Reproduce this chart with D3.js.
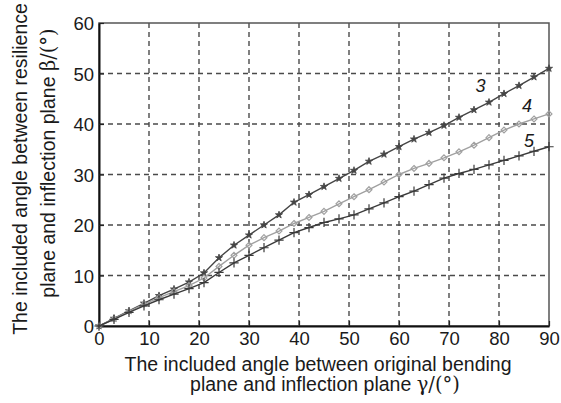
<!DOCTYPE html>
<html>
<head>
<meta charset="utf-8">
<script src="https://cdn.jsdelivr.net/npm/d3@7"></script>
<style>
  body { margin: 0; background: #fff; }
  text { font-family: "Liberation Sans", Arial, sans-serif; fill: #1a1a1a; }
</style>
</head>
<body>
<div id="chart"></div>
<script>
// gamma values (x) shared by all curves
const gamma = [0, 3, 6, 9, 12, 15, 18, 21, 24, 27, 30, 33, 36, 39, 42, 45, 48, 51, 54, 57, 60, 63, 66, 69, 72, 75, 78, 81, 84, 87, 90];

// beta values
const beta3 = [0, 1.5, 3, 4.5, 6, 7.3, 8.7, 10.5, 13.5, 16, 18, 20, 22, 24.5, 26, 27.6, 29.2, 30.8, 32.6, 34, 35.5, 37, 38.3, 39.7, 41.3, 42.8, 44.3, 46, 47.6, 49.3, 51];
const beta4 = [0, 1.4, 2.9, 4.3, 5.6, 6.8, 8, 9.5, 11.8, 14, 16, 17.5, 18.8, 20.3, 21.5, 22.7, 24.2, 25.6, 27, 28.5, 30, 31.2, 32.2, 33.3, 34.5, 35.8, 37.3, 38.8, 40, 41, 42];
const beta5 = [0, 1.3, 2.7, 4, 5.2, 6.3, 7.4, 8.6, 10.6, 12.5, 14, 15.5, 17, 18.5, 19.5, 20.5, 21.2, 22, 23.2, 24.4, 25.6, 26.7, 28, 29.3, 30.2, 31, 31.9, 32.8, 33.7, 34.6, 35.5];

const seriesNames = ['3', '4', '5'];
const xTicks = [0, 10, 20, 30, 40, 50, 60, 70, 80, 90];
const yTicks = [0, 10, 20, 30, 40, 50, 60];

const W = 561, H = 403;
const margin = { top: 23, right: 12, bottom: 77, left: 99 };
const width = W - margin.left - margin.right;
const height = H - margin.top - margin.bottom;

const svg = d3.select('#chart').append('svg')
    .attr('width', W)
    .attr('height', H);

const g = svg.append('g')
    .attr('transform', `translate(${margin.left},${margin.top})`);

const x = d3.scaleLinear().domain([0, 90]).range([0, width]);
const y = d3.scaleLinear().domain([0, 60]).range([height, 0]);

// grid
g.append('g')
    .selectAll('line')
    .data(xTicks.slice(1, -1))
    .join('line')
    .attr('x1', d => x(d)).attr('x2', d => x(d))
    .attr('y1', 0).attr('y2', height)
    .attr('stroke', '#4a4a4a').attr('stroke-width', 1.4)
    .attr('stroke-dasharray', '5,4');

g.append('g')
    .selectAll('line')
    .data(yTicks.slice(1, -1))
    .join('line')
    .attr('y1', d => y(d)).attr('y2', d => y(d))
    .attr('x1', 0).attr('x2', width)
    .attr('stroke', '#4a4a4a').attr('stroke-width', 1.4)
    .attr('stroke-dasharray', '5,4');

// frame
g.append('rect')
    .attr('width', width).attr('height', height)
    .attr('fill', 'none').attr('stroke', '#555').attr('stroke-width', 1.5);

// axes
const xAxis = g.append('g')
    .attr('transform', `translate(0,${height})`)
    .call(d3.axisBottom(x).tickValues(xTicks).tickSizeInner(-5).tickSizeOuter(0).tickPadding(6));
const yAxis = g.append('g')
    .call(d3.axisLeft(y).tickValues(yTicks).tickSizeInner(-5).tickSizeOuter(0).tickPadding(5));

[xAxis, yAxis].forEach(a => {
    a.select('.domain').attr('stroke', '#111').attr('stroke-width', 2);
    a.selectAll('.tick line').attr('stroke', '#222').attr('stroke-width', 1.2);
    a.selectAll('.tick text')
        .attr('font-size', 18.5)
        .attr('font-family', '"Liberation Sans", Arial, sans-serif')
        .attr('fill', '#1a1a1a');
});
yAxis.selectAll('.tick text').attr('dy', '0.36em');

// curves
const curves = [
    { name: seriesNames[0], values: beta3, color: '#454545', symbol: d3.symbolStar, size: 16, filled: true },
    { name: seriesNames[1], values: beta4, color: '#a0a0a0', symbol: d3.symbolDiamond2, size: 22, filled: false },
    { name: seriesNames[2], values: beta5, color: '#3a3a3a', symbol: d3.symbolPlus, size: 30, filled: false }
];

const line = d3.line()
    .x((d, i) => x(gamma[i]))
    .y(d => y(d));

curves.forEach(c => {
    g.append('path')
        .datum(c.values)
        .attr('d', line)
        .attr('fill', 'none')
        .attr('stroke', c.color)
        .attr('stroke-width', 1.4);

    g.append('g')
        .selectAll('path')
        .data(c.values)
        .join('path')
        .attr('transform', (d, i) => `translate(${x(gamma[i])},${y(d)})`)
        .attr('d', d3.symbol().type(c.symbol).size(c.size))
        .attr('fill', c.filled ? c.color : 'none')
        .attr('stroke', c.color)
        .attr('stroke-width', c.filled ? 0.8 : 1.2);
});

// curve labels
const labelPos = [[75.3, 46.3], [84.6, 42.3], [85, 35.4]];
g.append('g')
    .selectAll('text')
    .data(curves)
    .join('text')
    .attr('x', (d, i) => x(labelPos[i][0]))
    .attr('y', (d, i) => y(labelPos[i][1]))
    .attr('font-size', 18)
    .attr('font-style', 'italic')
    .text(d => d.name);

// axis titles
const xt = svg.append('text')
    .attr('text-anchor', 'middle')
    .attr('font-size', 19.5);
xt.append('tspan').attr('x', 318).attr('y', 371).text('The included angle between original bending');
const xt2 = xt.append('tspan').attr('x', 325).attr('y', 391);
xt2.append('tspan').text('plane and inflection plane  ');
xt2.append('tspan').attr('font-family', '"DejaVu Serif", "Liberation Serif", serif').text('γ/(°)');

const yt = svg.append('text')
    .attr('text-anchor', 'middle')
    .attr('font-size', 19.5)
    .attr('transform', 'rotate(-90)');
yt.append('tspan').attr('x', -169).attr('y', 27).text('The included angle between resilience');
const yt2 = yt.append('tspan').attr('x', -163).attr('y', 55);
yt2.append('tspan').text('plane and inflection plane  ');
yt2.append('tspan').attr('font-family', '"DejaVu Serif", "Liberation Serif", serif').text('β/(°)');
</script>
</body>
</html>
